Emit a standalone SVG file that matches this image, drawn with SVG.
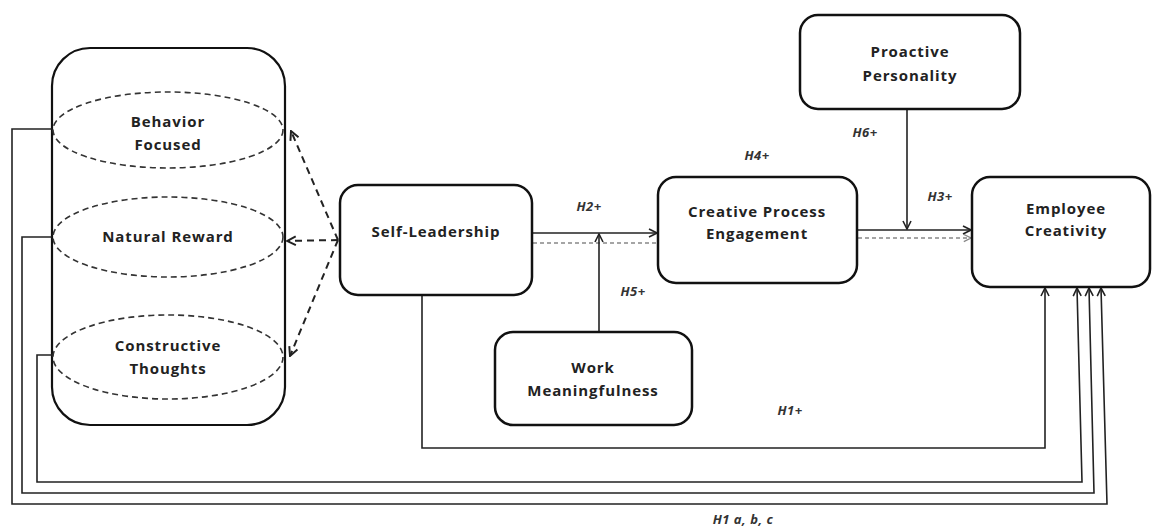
<svg xmlns="http://www.w3.org/2000/svg" width="1158" height="529" viewBox="0 0 1158 529">
  <style>
    .box { fill: #fff; stroke: #111; stroke-width: 2.5; }
    .container { fill: #fff; stroke: #111; stroke-width: 2.2; }
    .dim { fill: none; stroke: #333; stroke-width: 1.6; stroke-dasharray: 6 4; }
    .lbl { font-family: "Open Sans", "Liberation Sans", sans-serif; font-weight: bold; font-size: 15px; fill: #222; text-anchor: middle; letter-spacing: 0.9px; }
    .hyp { font-family: "Open Sans", "Liberation Sans", sans-serif; font-weight: bold; font-style: italic; font-size: 13px; fill: #333; text-anchor: middle; letter-spacing: 0.5px; }
    .link { fill: none; stroke: #222; stroke-width: 1.6; }
    .ghost { fill: none; stroke: #888; stroke-width: 1.4; stroke-dasharray: 4 3; }
    .dash { fill: none; stroke: #222; stroke-width: 2; stroke-dasharray: 7 5; }
  </style>
  <defs>
    <marker id="open" viewBox="0 0 10 10" refX="9" refY="5" markerWidth="10" markerHeight="10" markerUnits="userSpaceOnUse" orient="auto">
      <path d="M1,1 L9,5 L1,9" fill="none" stroke="#222" stroke-width="1.6"/>
    </marker>
    <marker id="openGray" viewBox="0 0 10 10" refX="9" refY="5" markerWidth="9" markerHeight="9" markerUnits="userSpaceOnUse" orient="auto">
      <path d="M1,1 L9,5 L1,9" fill="none" stroke="#888" stroke-width="1.4"/>
    </marker>
    <marker id="openDash" viewBox="0 0 10 10" refX="9" refY="5" markerWidth="11" markerHeight="11" markerUnits="userSpaceOnUse" orient="auto">
      <path d="M1,1 L9,5 L1,9" fill="none" stroke="#222" stroke-width="1.8"/>
    </marker>
  </defs>

  <rect width="1158" height="529" fill="#fff"/>

  <!-- self-leadership dimensions -->
  <g id="dimensions">
    <rect class="container" x="52" y="48" width="233" height="377" rx="38" ry="38"/>
    <g id="behavior-focused">
      <ellipse class="dim" cx="168" cy="130" rx="115" ry="38"/>
      <text class="lbl" x="168" y="127">Behavior</text>
      <text class="lbl" x="168" y="150">Focused</text>
    </g>
    <g id="natural-reward">
      <ellipse class="dim" cx="168" cy="237" rx="115" ry="40"/>
      <text class="lbl" x="168" y="242">Natural Reward</text>
    </g>
    <g id="constructive-thoughts">
      <ellipse class="dim" cx="168" cy="357" rx="115" ry="42"/>
      <text class="lbl" x="168" y="351">Constructive</text>
      <text class="lbl" x="168" y="374">Thoughts</text>
    </g>
  </g>

  <!-- connectors -->
  <g id="connectors">
    <!-- dashed arrows from Self-Leadership to its dimensions -->
    <path class="dash" d="M338,240 L291,131" marker-end="url(#openDash)"/>
    <path class="dash" d="M338,240 L287,241" marker-end="url(#openDash)"/>
    <path class="dash" d="M338,240 L290,356" marker-end="url(#openDash)"/>

    <!-- H2 -->
    <path class="link" d="M532,233 L657,233" marker-end="url(#open)"/>
    <path class="ghost" d="M533,243 L658,243"/>
    <!-- H5 -->
    <path class="link" d="M599,332 L599,234" marker-end="url(#open)"/>
    <!-- H3 -->
    <path class="link" d="M857,230 L971,230" marker-end="url(#open)"/>
    <path class="ghost" d="M858,238 L971,238" marker-end="url(#openGray)"/>
    <!-- H6 -->
    <path class="link" d="M907,109 L907,229" marker-end="url(#open)"/>
    <!-- H1 -->
    <path class="link" d="M422,295 L422,448 L1045,448 L1045,288" marker-end="url(#open)"/>
    <!-- H1 a, b, c -->
    <path class="link" d="M52,129 L12,129 L12,504 L1107,504 L1101,288" marker-end="url(#open)"/>
    <path class="link" d="M52,237 L22,237 L22,493 L1094,493 L1089,288" marker-end="url(#open)"/>
    <path class="link" d="M52,355 L37,355 L37,482 L1082,482 L1077,288" marker-end="url(#open)"/>
  </g>

  <g id="self-leadership">
    <rect class="box" x="340" y="185" width="192" height="110" rx="18" ry="18"/>
    <text class="lbl" x="436" y="237">Self-Leadership</text>
  </g>

  <g id="creative-process-engagement">
    <rect class="box" x="658" y="177" width="199" height="106" rx="18" ry="18"/>
    <text class="lbl" x="757" y="217">Creative Process</text>
    <text class="lbl" x="757" y="239">Engagement</text>
  </g>

  <g id="proactive-personality">
    <rect class="box" x="800" y="15" width="220" height="94" rx="18" ry="18"/>
    <text class="lbl" x="910" y="57">Proactive</text>
    <text class="lbl" x="910" y="81">Personality</text>
  </g>

  <g id="employee-creativity">
    <rect class="box" x="972" y="177" width="178" height="110" rx="18" ry="18"/>
    <text class="lbl" x="1066" y="214">Employee</text>
    <text class="lbl" x="1066" y="236">Creativity</text>
  </g>

  <g id="work-meaningfulness">
    <rect class="box" x="495" y="332" width="197" height="93" rx="18" ry="18"/>
    <text class="lbl" x="593" y="373">Work</text>
    <text class="lbl" x="593" y="396">Meaningfulness</text>
  </g>

  <!-- hypothesis labels -->
  <g id="labels">
    <text class="hyp" x="589" y="211">H2+</text>
    <text class="hyp" x="757" y="160">H4+</text>
    <text class="hyp" x="865" y="137">H6+</text>
    <text class="hyp" x="940" y="201">H3+</text>
    <text class="hyp" x="633" y="296">H5+</text>
    <text class="hyp" x="790" y="415">H1+</text>
    <text class="hyp" x="743" y="524">H1 a, b, c</text>
  </g>
</svg>
